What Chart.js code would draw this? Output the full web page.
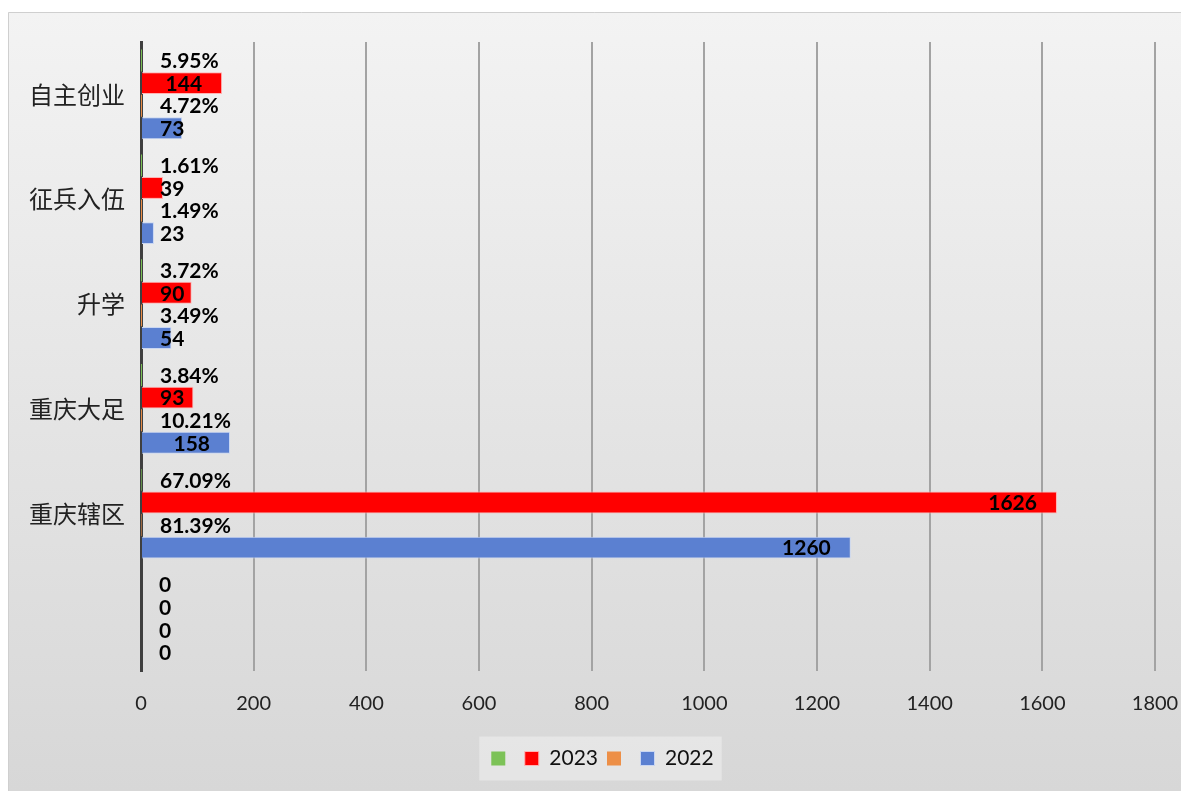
<!DOCTYPE html>
<html>
<head>
<meta charset="utf-8">
<script src="https://cdn.jsdelivr.net/npm/chart.js@4/dist/chart.umd.min.js"></script>
<style>
    html, body { margin: 0; padding: 0; background: #fff; }
    #wrap { width: 1181px; height: 791px; }
</style>
</head>
<body>
<div id="wrap"><canvas id="grafico"></canvas></div>
<script>
const categorias = ['自主创业', '征兵入伍', '升学', '重庆大足', '重庆辖区', ''];
const pct2023 = [0.0595, 0.0161, 0.0372, 0.0384, 0.6709, 0];
const valores2023 = [144, 39, 90, 93, 1626, 0];
const pct2022 = [0.0472, 0.0149, 0.0349, 0.1021, 0.8139, 0];
const valores2022 = [73, 23, 54, 158, 1260, 0];
const ticksX = [0, 200, 400, 600, 800, 1000, 1200, 1400, 1600, 1800];

// fondo gris con degradado y caja de la leyenda
const fondo = {
    id: 'fondo',
    afterLayout(chart) {
        // la leyenda del original esta un poco a la derecha
        chart.legend.left += 21;
        chart.legend.right += 21;
    },
    beforeDraw(chart) {
        const ctx = chart.ctx;
        ctx.save();
        let grad = ctx.createLinearGradient(0, 12, 0, chart.height);
        grad.addColorStop(0, '#f3f3f3');
        grad.addColorStop(1, '#d7d7d7');
        ctx.fillStyle = grad;
        ctx.fillRect(8, 12, chart.width - 8, chart.height - 12);
        ctx.strokeStyle = '#cfcfcf';
        ctx.lineWidth = 1;
        ctx.beginPath();
        ctx.moveTo(8.5, chart.height);
        ctx.lineTo(8.5, 12.5);
        ctx.lineTo(chart.width, 12.5);
        ctx.stroke();

        let cajas = chart.legend.legendHitBoxes;
        if (cajas && cajas.length) {
            let x0 = Math.min(...cajas.map(b => b.left)) - 12;
            let x1 = Math.max(...cajas.map(b => b.left + b.width)) + 8;
            let yc = cajas[0].top + cajas[0].height / 2;
            ctx.fillStyle = 'rgba(240,240,240,0.55)';
            ctx.fillRect(x0, yc - 22, x1 - x0, 44);
        }
        ctx.restore();
    }
};

// etiquetas de cada barra
const etiquetas = {
    id: 'etiquetas',
    afterDatasetsDraw(chart) {
        const ctx = chart.ctx;
        ctx.save();
        ctx.font = 'bold 21px Lato';
        ctx.fillStyle = '#000';
        ctx.textBaseline = 'middle';
        chart.data.datasets.forEach((ds, i) => {
            let meta = chart.getDatasetMeta(i);
            meta.data.forEach((bar, j) => {
                let v = ds.data[j];
                let texto;
                if (ds.esPct) {
                    texto = v === 0 ? '0' : (v * 100).toFixed(2) + '%';
                } else {
                    texto = v.toString();
                }
                let w = ctx.measureText(texto).width;
                let inicio = bar.base + 18;
                if (ds.esPct) {
                    ctx.textAlign = 'left';
                    ctx.fillText(texto, inicio, bar.y + 1);
                } else {
                    let fin = Math.max(bar.x - 20, inicio + w);
                    ctx.textAlign = 'right';
                    ctx.fillText(texto, fin, bar.y + 1);
                }
            });
        });
        ctx.restore();
    }
};

let chart = new Chart(document.getElementById('grafico').getContext('2d'), {
    type: 'bar',
    data: {
        labels: categorias,
        datasets: [
            {
                label: '',
                esPct: true,
                data: pct2023,
                backgroundColor: '#7cc257',
                borderColor: '#7cc257',
                borderWidth: 0,
            },
            {
                label: '2023',
                data: valores2023,
                backgroundColor: '#ff0000',
                borderColor: '#ffb3b3',
                borderWidth: 1,
            },
            {
                label: '',
                esPct: true,
                data: pct2022,
                backgroundColor: '#ed8f47',
                borderColor: '#ed8f47',
                borderWidth: 0,
            },
            {
                label: '2022',
                data: valores2022,
                backgroundColor: '#5b80d1',
                borderColor: '#c9d6f2',
                borderWidth: 1,
            },
        ]
    },
    plugins: [fondo, etiquetas],
    options: {
        indexAxis: 'y',
        responsive: true,
        maintainAspectRatio: false,
        animation: false,
        categoryPercentage: 0.862,
        barPercentage: 0.97,
        layout: {
            padding: {left: 8, right: 26, top: 42, bottom: 12}
        },
        plugins: {
            tooltip: {enabled: false},
            legend: {
                position: 'bottom',
                labels: {
                    boxWidth: 14,
                    boxHeight: 14,
                    padding: 9,
                    color: '#111',
                    font: {family: 'Lato', size: 21}
                }
            }
        },
        scales: {
            x: {
                min: 0,
                max: 1800,
                afterBuildTicks: (scale) => {
                    scale.ticks = ticksX.map(v => ({value: v}));
                },
                grid: {
                    color: '#a3a3a3',
                    lineWidth: 2,
                    drawTicks: false
                },
                border: {display: false},
                ticks: {
                    color: '#222',
                    padding: 21,
                    font: {family: 'Lato', size: 20},
                    callback: (v) => String(v)
                },
                afterFit: (scale) => {
                    scale.height = 68;
                    scale.paddingLeft = 0;
                    scale.paddingRight = 0;
                }
            },
            y: {
                grid: {display: false},
                border: {display: true, color: '#3f3f3f', width: 3},
                ticks: {
                    color: '#222',
                    padding: 8,
                    font: {family: 'Noto Sans CJK SC', size: 24}
                },
                afterFit: (scale) => {
                    scale.width = 133;
                }
            }
        }
    }
});
</script>
</body>
</html>
